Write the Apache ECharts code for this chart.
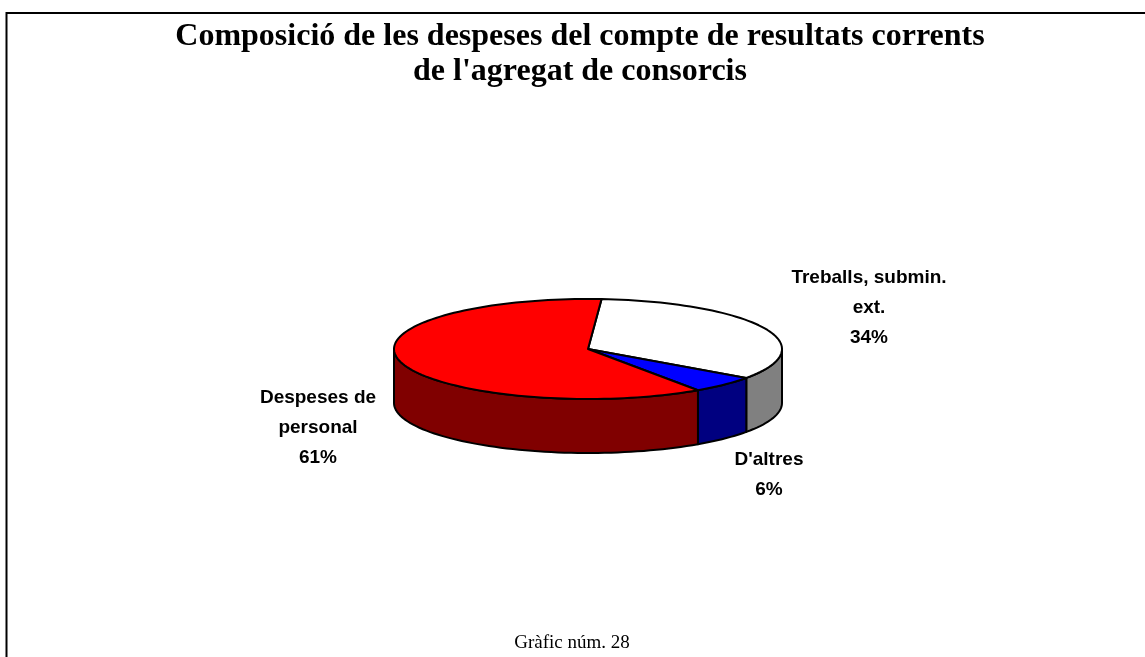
<!DOCTYPE html>
<html>
<head>
<meta charset="utf-8">
<title>Composició de les despeses</title>
<script src="https://cdn.jsdelivr.net/npm/echarts@6/dist/echarts.min.js"></script>
<style>
html, body { margin: 0; padding: 0; background: #fff; }
#chart { width: 1145px; height: 657px; }
</style>
</head>
<body>
<div id="chart"></div>
<script>
var categories = ['Treballs, submin.\next.', "D'altres", 'Despeses de\npersonal']
var values = [33.7, 5.6, 60.7]
var topColors = ['#FFFFFF', '#0000FF', '#FF0000']
var sideColors = ['#808080', '#000080', '#800000']

var total = values.reduce(function (s, v) { return s + v }, 0)
var slices = []
var acc = 0
values.forEach(function (v, i) {
  slices.push({ name: categories[i], value: [v, acc / total, (acc + v) / total] })
  acc += v
})

// geometria del pastís 3D (el·lipse inclinada)
var cx = 588, cy = 349, rx = 194, ry = 50, depth = 54
var startDeg = 4
var labelAt = [[869, 308], [769, 475], [318, 428]]

function pt (deg, dy) {
  var r = deg * Math.PI / 180
  return [cx + rx * Math.sin(r), cy - ry * Math.cos(r) + (dy || 0)]
}
function arc (a, b, dy) {
  var pts = []
  var n = Math.max(2, Math.ceil(Math.abs(b - a) / 2))
  for (var i = 0; i <= n; i++) pts.push(pt(a + (b - a) * i / n, dy))
  return pts
}

var chart = echarts.init(document.getElementById('chart'))
var fronts = [[90, 270], [450, 630]]

chart.setOption({
  animation: false,
  graphic: [
    { // marc
      type: 'polyline',
      shape: { points: [[6.5, 657], [6.5, 13], [1145, 13]] },
      style: { stroke: '#000', lineWidth: 2, fill: null }
    },
    {
      type: 'text',
      x: 580,
      y: 19,
      style: {
        text: 'Composició de les despeses del compte de resultats corrents\nde l\'agregat de consorcis',
        fontFamily: 'Liberation Serif',
        fontSize: 32,
        fontWeight: 'bold',
        lineHeight: 35,
        align: 'center',
        verticalAlign: 'top',
        fill: '#000'
      }
    },
    {
      type: 'text',
      x: 572,
      y: 643,
      style: {
        text: 'Gràfic núm. 28',
        fontFamily: 'Liberation Serif',
        fontSize: 19,
        align: 'center',
        verticalAlign: 'middle',
        fill: '#000'
      }
    }
  ],
  series: [
    {
      type: 'custom',
      coordinateSystem: 'none',
      data: slices,
      renderItem: function (params, api) {
        var i = params.dataIndex
        var a = startDeg + api.value(1) * 360
        var b = startDeg + api.value(2) * 360
        var children = []
        fronts.forEach(function (w) {
          var s = Math.max(a, w[0])
          var e = Math.min(b, w[1])
          if (e > s) {
            children.push({
              type: 'polygon',
              z2: 1,
              shape: { points: arc(s, e, 0).concat(arc(e, s, depth)) },
              style: { fill: sideColors[i], stroke: '#000', lineWidth: 2, lineJoin: 'round' }
            })
          }
        })
        children.push({
          type: 'polygon',
          z2: 2,
          shape: { points: [[cx, cy]].concat(arc(a, b, 0)) },
          style: { fill: topColors[i], stroke: '#000', lineWidth: 2, lineJoin: 'round' }
        })
        children.push({
          type: 'text',
          z2: 3,
          x: labelAt[i][0],
          y: labelAt[i][1],
          style: {
            text: categories[i] + '\n' + Math.round(api.value(0) / total * 100) + '%',
            fontFamily: 'Liberation Sans',
            fontSize: 19,
            fontWeight: 'bold',
            lineHeight: 30,
            align: 'center',
            verticalAlign: 'middle',
            fill: '#000'
          }
        })
        return { type: 'group', children: children }
      }
    }
  ]
})
</script>
</body>
</html>
